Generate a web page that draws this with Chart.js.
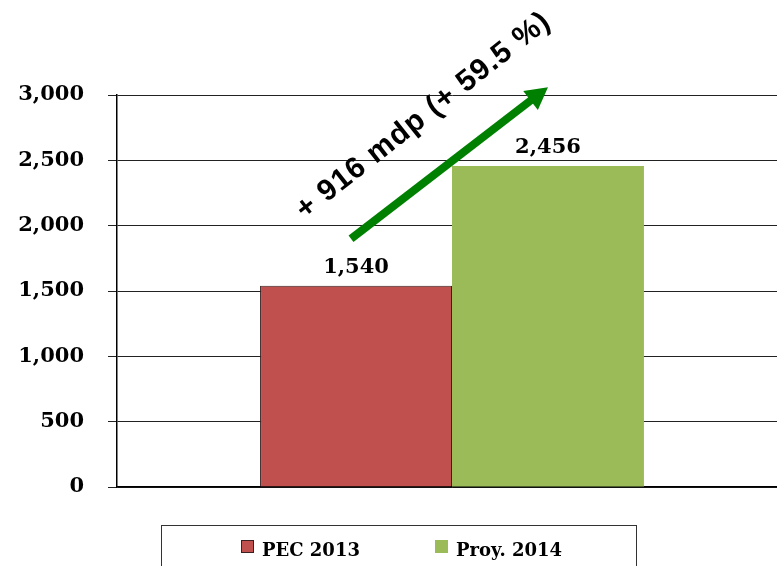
<!DOCTYPE html>
<html>
<head>
<meta charset="utf-8">
<script src="https://cdn.jsdelivr.net/npm/chart.js@4/dist/chart.umd.min.js"></script>
<style>
  html, body { margin: 0; padding: 0; background: #fff; overflow: hidden; }
  #wrap { width: 787px; height: 566px; }
</style>
</head>
<body>
<div id="wrap"><canvas id="pecChart"></canvas></div>
<script>
const categories = [''];
const seriesNames = ['PEC 2013', 'Proy. 2014'];
const pec2013 = [1540];
const proy2014 = [2456];
const yTicks = [0, 500, 1000, 1500, 2000, 2500, 3000];
// arrow runs from this value over the first bar to this value over the second
const arrowFrom = 1900;
const arrowTo = 3060;

const serif = '"DejaVu Serif", serif';
const fmt = v => Number(v).toLocaleString('en-US');

const diff = proy2014[0] - pec2013[0];
const pct = (diff / pec2013[0] * 100).toFixed(1);
const arrowText = '+ ' + diff + ' mdp (+ ' + pct + ' %)';

// value labels above each bar
const barLabels = {
    id: 'barLabels',
    afterDatasetsDraw(chart) {
        const c = chart.ctx;
        c.save();
        c.font = 'bold 21px ' + serif;
        c.fillStyle = '#000';
        c.textAlign = 'center';
        c.textBaseline = 'bottom';
        chart.data.datasets.forEach((ds, i) => {
            chart.getDatasetMeta(i).data.forEach((bar, j) => {
                c.fillText(fmt(ds.data[j]), bar.x, bar.y - 8);
            });
        });
        c.restore();
    }
};

// green growth arrow with its caption
const growthArrow = {
    id: 'growthArrow',
    afterDatasetsDraw(chart) {
        const c = chart.ctx;
        const y = chart.scales.y;
        const x1 = chart.getDatasetMeta(0).data[0].x - 5;
        const x2 = chart.getDatasetMeta(1).data[0].x;
        const y1 = y.getPixelForValue(arrowFrom);
        const y2 = y.getPixelForValue(arrowTo);
        const ang = Math.atan2(y2 - y1, x2 - x1);
        const len = Math.hypot(x2 - x1, y2 - y1);
        c.save();
        c.translate(x1, y1);
        c.rotate(ang);
        c.fillStyle = '#008000';
        c.fillRect(0, -4, len - 18, 8);
        c.beginPath();
        c.moveTo(len, 0);
        c.lineTo(len - 22, -12);
        c.lineTo(len - 22, 12);
        c.closePath();
        c.fill();
        c.restore();

        // caption sits above the arrow, a touch steeper
        c.save();
        c.translate((x1 + x2) / 2 - 26, (y1 + y2) / 2 - 47);
        c.rotate(-38.3 * Math.PI / 180);
        c.fillStyle = '#000';
        c.font = 'bold 30px "Liberation Sans", Arial, sans-serif';
        c.letterSpacing = '1px';
        c.textAlign = 'center';
        c.textBaseline = 'middle';
        c.fillText(arrowText, 0, 0);
        c.restore();
    }
};

// framed legend under the plot
const framedLegend = {
    id: 'framedLegend',
    afterDraw(chart) {
        const c = chart.ctx;
        const left = 161, right = 636, top = 525.5;
        c.save();
        c.strokeStyle = '#333';
        c.lineWidth = 1;
        c.strokeRect(left + 0.5, top, right - left, 60);
        c.font = 'bold 18px ' + serif;
        c.textBaseline = 'alphabetic';
        const sq = 13, gapTxt = 8;
        const firstX = 241, secondX = 435;
        const xs = [firstX, secondX];
        chart.data.datasets.forEach((ds, i) => {
            const x = xs[i];
            c.fillStyle = ds.backgroundColor;
            c.fillRect(x, 540, sq, sq);
            if (ds.borderWidth) {
                c.strokeStyle = ds.borderColor;
                c.strokeRect(x + 0.5, 540.5, sq - 1, sq - 1);
            }
            c.fillStyle = '#000';
            c.fillText(ds.label, x + sq + gapTxt, 556);
        });
        c.restore();
    }
};

const ctx = document.getElementById('pecChart').getContext('2d');
const pecChart = new Chart(ctx, {
    type: 'bar',
    data: {
        labels: categories,
        datasets: [{
            label: seriesNames[0],
            data: pec2013,
            backgroundColor: '#C0504D',
            borderColor: '#3a2020',
            borderWidth: 1
        }, {
            label: seriesNames[1],
            data: proy2014,
            backgroundColor: '#9BBB59',
            borderWidth: 0
        }]
    },
    options: {
        responsive: true,
        maintainAspectRatio: false,
        animation: false,
        layout: { padding: { top: 95, bottom: 71, left: 0, right: 0 } },
        plugins: {
            legend: { display: false },
            tooltip: { enabled: false }
        },
        datasets: {
            bar: { categoryPercentage: 0.573, barPercentage: 1.0 }
        },
        scales: {
            x: {
                grid: { display: false },
                ticks: { display: false },
                border: { display: true, color: '#000', width: 1.5 }
            },
            y: {
                min: 0,
                max: 3000,
                afterBuildTicks(scale) {
                    scale.ticks = yTicks.map(v => ({ value: v }));
                },
                afterFit(scale) { scale.width = 117; },
                ticks: {
                    color: '#000',
                    padding: 24,
                    font: { family: serif, size: 21, weight: 'bold' },
                    callback: v => fmt(v)
                },
                grid: { color: '#222', lineWidth: 1, tickLength: 9 },
                border: { display: true, color: '#000', width: 1.5 }
            }
        }
    },
    plugins: [barLabels, growthArrow, framedLegend]
});
</script>
</body>
</html>
